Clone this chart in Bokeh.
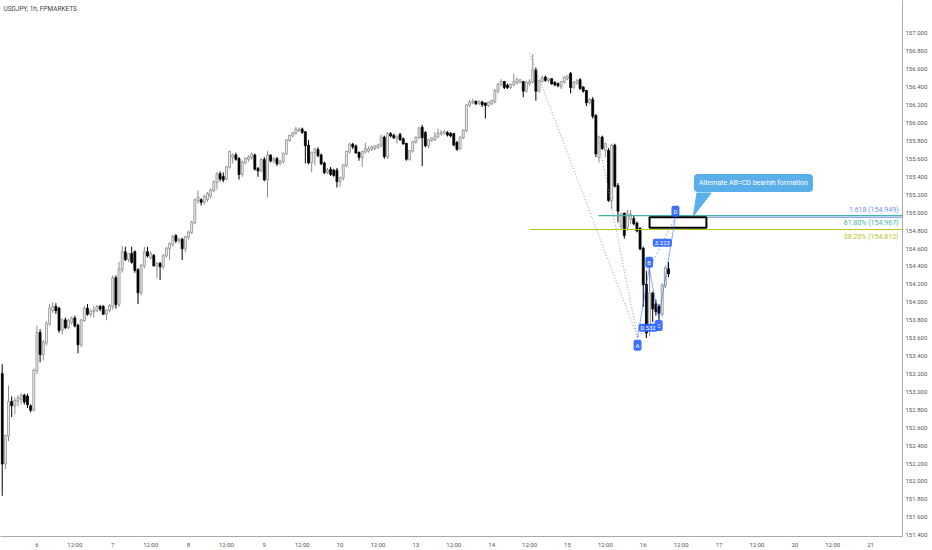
from bokeh.plotting import figure
from bokeh.models import FixedTicker, NumeralTickFormatter, Label, ColumnDataSource
from bokeh.embed import file_html
from bokeh.resources import INLINE

# ---------------- data (USDJPY 1h, FPMARKETS) ----------------
OPEN = [
    153.20, 152.20, 152.51, 152.89, 152.85, 152.90, 152.92, 152.96, 152.95, 152.84,
    152.80, 153.24, 153.66, 153.42, 153.55, 153.76, 153.91, 153.95, 153.93, 153.69,
    153.80, 153.72, 153.78, 153.82, 153.74, 153.53, 153.80, 153.93, 153.87, 153.90,
    153.91, 153.95, 153.95, 153.87, 153.91, 153.96, 154.27, 153.98, 154.37, 154.56,
    154.48, 154.54, 154.56, 154.36, 154.11, 154.41, 154.56, 154.50, 154.52, 154.41,
    154.43, 154.40, 154.52, 154.60, 154.65, 154.74, 154.69, 154.70, 154.60, 154.73,
    154.78, 154.89, 155.14, 155.14, 155.12, 155.15, 155.19, 155.25, 155.34, 155.43,
    155.40, 155.38, 155.51, 155.62, 155.64, 155.60, 155.43, 155.56, 155.60, 155.62,
    155.64, 155.49, 155.47, 155.59, 155.37, 155.64, 155.58, 155.60, 155.55, 155.57,
    155.66, 155.81, 155.86, 155.89, 155.92, 155.93, 155.90, 155.75, 155.56, 155.67,
    155.70, 155.64, 155.55, 155.45, 155.48, 155.47, 155.47, 155.35, 155.39, 155.53,
    155.68, 155.76, 155.74, 155.67, 155.62, 155.68, 155.69, 155.71, 155.72, 155.73,
    155.75, 155.84, 155.63, 155.88, 155.86, 155.83, 155.87, 155.82, 155.77, 155.60,
    155.69, 155.79, 155.84, 155.95, 155.89, 155.75, 155.81, 155.82, 155.85, 155.88,
    155.89, 155.89, 155.88, 155.88, 155.78, 155.72, 155.84, 155.92, 156.20, 156.23,
    156.24, 156.22, 156.23, 156.22, 156.20, 156.22, 156.24, 156.36, 156.43, 156.46,
    156.42, 156.40, 156.43, 156.45, 156.46, 156.46, 156.36, 156.44, 156.46, 156.59,
    156.36, 156.47, 156.51, 156.48, 156.49, 156.45, 156.44, 156.41, 156.46, 156.50,
    156.55, 156.40, 156.45, 156.48, 156.40, 156.36, 156.23, 156.26, 156.08, 155.62,
    155.84, 155.70, 155.69, 155.14, 155.75, 155.30, 154.85, 154.99, 154.84, 154.93,
    154.93, 154.88, 154.82, 154.60, 154.20, 153.69, 154.10, 153.98, 153.95, 153.87,
    154.19, 154.37,
]
HIGH = [
    153.31, 152.52, 153.07, 152.95, 152.94, 152.96, 152.99, 152.98, 152.98, 152.86,
    153.26, 153.74, 153.70, 153.58, 153.79, 153.98, 154.00, 153.99, 153.95, 153.82,
    153.83, 153.81, 153.84, 153.85, 153.76, 153.81, 153.96, 153.98, 153.92, 153.96,
    153.97, 153.97, 153.97, 153.92, 153.98, 154.30, 154.30, 154.45, 154.63, 154.62,
    154.55, 154.62, 154.58, 154.38, 154.43, 154.62, 154.62, 154.57, 154.54, 154.45,
    154.45, 154.54, 154.62, 154.67, 154.75, 154.76, 154.72, 154.72, 154.74, 154.80,
    154.91, 155.16, 155.25, 155.16, 155.20, 155.23, 155.27, 155.36, 155.45, 155.46,
    155.45, 155.52, 155.69, 155.66, 155.67, 155.62, 155.58, 155.62, 155.64, 155.67,
    155.66, 155.51, 155.61, 155.62, 155.69, 155.65, 155.62, 155.62, 155.59, 155.67,
    155.82, 155.87, 155.90, 155.96, 155.95, 155.95, 155.91, 155.81, 155.68, 155.72,
    155.73, 155.66, 155.57, 155.50, 155.51, 155.49, 155.50, 155.40, 155.54, 155.69,
    155.78, 155.78, 155.76, 155.68, 155.68, 155.78, 155.74, 155.75, 155.75, 155.77,
    155.87, 155.86, 155.90, 155.90, 155.88, 155.86, 155.89, 155.84, 155.78, 155.70,
    155.80, 155.85, 155.96, 155.98, 155.91, 155.82, 155.84, 155.90, 155.94, 155.92,
    155.92, 155.91, 155.90, 155.89, 155.80, 155.85, 155.93, 156.21, 156.26, 156.27,
    156.25, 156.25, 156.25, 156.23, 156.24, 156.26, 156.38, 156.45, 156.49, 156.47,
    156.44, 156.44, 156.55, 156.51, 156.49, 156.47, 156.47, 156.49, 156.77, 156.62,
    156.48, 156.53, 156.53, 156.50, 156.50, 156.47, 156.45, 156.47, 156.52, 156.53,
    156.57, 156.47, 156.49, 156.50, 156.41, 156.37, 156.28, 156.29, 156.10, 155.86,
    155.86, 155.78, 155.72, 155.77, 155.77, 155.33, 155.00, 155.00, 155.03, 155.03,
    154.97, 154.90, 154.84, 154.62, 154.35, 154.38, 154.12, 154.03, 153.98, 154.21,
    154.41, 154.45,
]
LOW = [
    151.84, 152.14, 152.45, 152.72, 152.75, 152.84, 152.86, 152.86, 152.82, 152.77,
    152.78, 153.20, 153.33, 153.35, 153.52, 153.74, 153.88, 153.87, 153.66, 153.64,
    153.70, 153.70, 153.75, 153.72, 153.43, 153.50, 153.78, 153.85, 153.84, 153.83,
    153.89, 153.90, 153.86, 153.80, 153.89, 153.92, 153.93, 153.95, 154.33, 154.46,
    154.45, 154.43, 154.33, 153.98, 154.08, 154.38, 154.50, 154.48, 154.40, 154.27,
    154.25, 154.37, 154.50, 154.47, 154.62, 154.66, 154.66, 154.47, 154.56, 154.70,
    154.76, 154.87, 155.10, 155.08, 155.09, 155.12, 155.16, 155.23, 155.26, 155.35,
    155.34, 155.36, 155.49, 155.55, 155.58, 155.37, 155.40, 155.54, 155.57, 155.59,
    155.47, 155.40, 155.45, 155.35, 155.17, 155.56, 155.55, 155.52, 155.53, 155.55,
    155.64, 155.79, 155.84, 155.87, 155.90, 155.88, 155.55, 155.54, 155.45, 155.53,
    155.62, 155.53, 155.43, 155.43, 155.41, 155.40, 155.28, 155.29, 155.36, 155.51,
    155.66, 155.71, 155.66, 155.58, 155.51, 155.66, 155.67, 155.69, 155.70, 155.71,
    155.73, 155.60, 155.60, 155.84, 155.82, 155.77, 155.80, 155.76, 155.58, 155.58,
    155.67, 155.77, 155.82, 155.52, 155.73, 155.72, 155.79, 155.80, 155.83, 155.86,
    155.87, 155.85, 155.84, 155.74, 155.69, 155.70, 155.82, 155.90, 156.18, 156.21,
    156.20, 156.20, 156.18, 156.05, 156.18, 156.20, 156.22, 156.33, 156.41, 156.38,
    156.38, 156.38, 156.41, 156.43, 156.44, 156.29, 156.34, 156.42, 156.44, 156.25,
    156.34, 156.45, 156.46, 156.45, 156.43, 156.41, 156.40, 156.38, 156.44, 156.48,
    156.33, 156.38, 156.43, 156.37, 156.34, 156.19, 156.21, 156.05, 155.62, 155.56,
    155.70, 155.62, 155.12, 155.04, 155.28, 154.89, 154.82, 154.71, 154.80, 154.88,
    154.86, 154.78, 154.58, 153.95, 153.60, 153.62, 153.78, 153.85, 153.80, 153.84,
    154.16, 154.28,
]
CLOSE = [
    152.20, 152.51, 152.89, 152.85, 152.90, 152.93, 152.96, 152.89, 152.86, 152.80,
    153.24, 153.66, 153.42, 153.55, 153.76, 153.93, 153.95, 153.91, 153.69, 153.80,
    153.72, 153.80, 153.82, 153.74, 153.53, 153.80, 153.93, 153.87, 153.90, 153.91,
    153.95, 153.93, 153.87, 153.91, 153.96, 154.27, 153.98, 154.37, 154.56, 154.48,
    154.54, 154.45, 154.36, 154.11, 154.41, 154.56, 154.52, 154.54, 154.41, 154.43,
    154.40, 154.52, 154.60, 154.65, 154.73, 154.69, 154.70, 154.60, 154.73, 154.78,
    154.89, 155.14, 155.17, 155.12, 155.18, 155.21, 155.25, 155.34, 155.43, 155.38,
    155.37, 155.51, 155.68, 155.64, 155.60, 155.43, 155.56, 155.60, 155.62, 155.65,
    155.49, 155.47, 155.59, 155.37, 155.64, 155.58, 155.60, 155.55, 155.57, 155.66,
    155.81, 155.86, 155.89, 155.93, 155.93, 155.90, 155.75, 155.56, 155.67, 155.71,
    155.64, 155.55, 155.45, 155.47, 155.43, 155.42, 155.35, 155.39, 155.53, 155.68,
    155.76, 155.74, 155.67, 155.62, 155.68, 155.71, 155.71, 155.73, 155.74, 155.75,
    155.84, 155.63, 155.88, 155.86, 155.84, 155.85, 155.82, 155.77, 155.60, 155.69,
    155.79, 155.84, 155.94, 155.84, 155.75, 155.81, 155.83, 155.85, 155.88, 155.89,
    155.90, 155.87, 155.86, 155.76, 155.71, 155.84, 155.92, 156.20, 156.23, 156.24,
    156.22, 156.24, 156.21, 156.20, 156.23, 156.25, 156.36, 156.43, 156.46, 156.40,
    156.40, 156.43, 156.46, 156.48, 156.48, 156.36, 156.45, 156.46, 156.59, 156.36,
    156.47, 156.50, 156.48, 156.49, 156.44, 156.43, 156.42, 156.46, 156.51, 156.52,
    156.40, 156.45, 156.47, 156.39, 156.36, 156.23, 156.26, 156.08, 155.66, 155.84,
    155.72, 155.77, 155.14, 155.75, 155.30, 155.02, 154.98, 154.75, 154.99, 154.98,
    154.88, 154.80, 154.60, 154.20, 153.66, 154.10, 153.93, 153.90, 153.88, 154.19,
    154.38, 154.32,
]
BAR = list(range(len(CLOSE)))

# time axis (bar index of each label)
DAY_TICKS = [11, 23, 35, 47, 59, 71, 83, 95, 107, 119, 131, 143,
             155, 167, 179, 191, 203, 215, 227, 239, 251, 263, 275]
DAY_LABELS = ["6", "12:00", "7", "12:00", "8", "12:00", "9", "12:00", "10", "12:00",
              "13", "12:00", "14", "12:00", "15", "12:00", "16", "12:00", "17", "12:00",
              "20", "12:00", "21"]
PRICE_TICKS = [151.4, 151.6, 151.8, 152.0, 152.2, 152.4, 152.6, 152.8, 153.0, 153.2,
               153.4, 153.6, 153.8, 154.0, 154.2, 154.4, 154.6, 154.8, 155.0, 155.2,
               155.4, 155.6, 155.8, 156.0, 156.2, 156.4, 156.6, 156.8, 157.0]
X_RANGE = (-0.54, 285.1)
Y_RANGE = (151.386, 157.368)

# fibonacci levels
FIB_NAMES = ["1.618", "61.80%", "38.20%"]
FIB_PRICES = [154.949, 154.967, 154.812]
FIB_START = [204.5, 188.8, 167.0]
FIB_COLORS = ["#6f8ff0", "#3fb6a8", "#b9c41c"]
FIB_TEXT_DY = [7, -7, -7]

# AB=CD pattern points
PAT_NAMES = ["A", "B", "C", "D"]
PAT_BAR = [201.2, 204.9, 207.9, 213.2]
PAT_PRICE = [153.61, 154.38, 153.82, 154.949]
PAT_DY = [-8, 6, -7, 6]
RATIOS = ["0.532", "3.223"]

# guide (dotted) lines towards A
GUIDE_X0 = [167.0, 188.6]
GUIDE_Y0 = [156.78, 155.85]

# target box
BOX = dict(left=205.0, right=223.0, bottom=154.832, top=154.949)

# callout
CALLOUT_TEXT = "Alternate AB=CD bearish formation"
CALLOUT_BAR = 237.9
CALLOUT_PRICE = 155.33
POINTER_X = [220.0, 224.5, 218.9]
POINTER_Y = [155.22, 155.22, 154.965]

TEXT_FONT = "Roboto"
BLUE = "#2962ff"

# ---------------- figure ----------------
p = figure(frame_width=902, frame_height=536, x_range=X_RANGE, y_range=Y_RANGE,
           output_backend="svg", toolbar_location=None, y_axis_location="right",
           min_border_left=0, min_border_top=0, min_border_right=0, min_border_bottom=0)
p.xgrid.visible = False
p.ygrid.visible = False
p.outline_line_color = None
p.background_fill_color = "white"

p.xaxis.ticker = FixedTicker(ticks=DAY_TICKS)
p.xaxis.major_label_overrides = {t: l for t, l in zip(DAY_TICKS, DAY_LABELS)}
p.yaxis.ticker = FixedTicker(ticks=PRICE_TICKS)
p.yaxis.formatter = NumeralTickFormatter(format="0.000")
for ax in (p.xaxis[0], p.yaxis[0]):
    ax.major_tick_line_color = None
    ax.minor_tick_line_color = None
    ax.major_tick_out = 0
    ax.major_tick_in = 0
    ax.minor_tick_out = 0
    ax.minor_tick_in = 0
    ax.axis_line_color = "#a9a9a9"
    ax.major_label_text_font_size = "6px"
    ax.major_label_text_color = "#555555"
    ax.major_label_text_font = TEXT_FONT
p.xaxis.major_label_standoff = 4
p.yaxis.major_label_standoff = 3

# ---------------- candles ----------------
up = [c >= o for o, c in zip(OPEN, CLOSE)]
src = ColumnDataSource(dict(
    x=BAR, high=HIGH, low=LOW,
    top=[max(o, c) + 0.004 for o, c in zip(OPEN, CLOSE)],
    bottom=[min(o, c) - 0.004 for o, c in zip(OPEN, CLOSE)],
    fill=["#f2f2f2" if u else "#000000" for u in up],
    line=["#8c8c8c" if u else "#000000" for u in up],
))
p.segment(x0="x", y0="high", x1="x", y1="low", color="line", line_width=1, source=src)
p.vbar(x="x", width=0.62, top="top", bottom="bottom", fill_color="fill",
       line_color="line", line_width=0.8, source=src)

# ---------------- guides ----------------
for gx, gy in zip(GUIDE_X0, GUIDE_Y0):
    p.line([gx, PAT_BAR[0]], [gy, PAT_PRICE[0]], line_color="#9a9a9a",
           line_dash="1 2", line_width=1)

# fib lines
for name, price, start, col, dy in zip(FIB_NAMES, FIB_PRICES, FIB_START, FIB_COLORS, FIB_TEXT_DY):
    p.line([start, X_RANGE[1]], [price, price], line_color=col, line_width=1.2, line_alpha=1.0)
    p.add_layout(Label(x=X_RANGE[1], y=price, x_offset=-4, y_offset=dy,
                       text=f"{name} ({price:.3f})", text_align="right",
                       text_baseline="middle", text_font_size="7px",
                       text_color=col, text_font=TEXT_FONT))

# target box
p.quad(left=[BOX["left"]], right=[BOX["right"]], bottom=[BOX["bottom"]], top=[BOX["top"]],
       fill_color="white", line_color="black", line_width=2)

# pattern legs
p.line(PAT_BAR, PAT_PRICE, line_color=BLUE, line_alpha=0.55, line_width=1)
p.line([PAT_BAR[0], PAT_BAR[2]], [PAT_PRICE[0], PAT_PRICE[2]], line_color=BLUE,
       line_alpha=0.5, line_dash="2 2")
p.line([PAT_BAR[1], PAT_BAR[3]], [PAT_PRICE[1], PAT_PRICE[3]], line_color=BLUE,
       line_alpha=0.5, line_dash="2 2")

def tag(x, y, text, dy):
    p.add_layout(Label(x=x, y=y, y_offset=dy, text=text, text_align="center",
                       text_baseline="middle", text_font_size="6px", text_color="white",
                       text_font=TEXT_FONT, background_fill_color=BLUE,
                       background_fill_alpha=0.9, padding=2, border_radius=2))

for n, bx, py, dy in zip(PAT_NAMES, PAT_BAR, PAT_PRICE, PAT_DY):
    tag(bx, py, n, dy)
tag((PAT_BAR[0] + PAT_BAR[2]) / 2, (PAT_PRICE[0] + PAT_PRICE[2]) / 2, RATIOS[0], 0)
tag((PAT_BAR[1] + PAT_BAR[3]) / 2, (PAT_PRICE[1] + PAT_PRICE[3]) / 2, RATIOS[1], 0)

# callout
p.patch(POINTER_X, POINTER_Y, fill_color="#5aaeea", line_color="#5aaeea")
p.add_layout(Label(x=CALLOUT_BAR, y=CALLOUT_PRICE, text=CALLOUT_TEXT, text_align="center",
                   text_baseline="middle", text_font_size="7px", text_color="white",
                   text_font=TEXT_FONT, background_fill_color="#5aaeea",
                   padding=5, border_radius=4))

# header text
p.add_layout(Label(x=X_RANGE[0], y=Y_RANGE[1], x_offset=3, y_offset=-8,
                   text="USDJPY, 1h, FPMARKETS", text_baseline="middle",
                   text_font_size="6.5px", text_color="#444444", text_font=TEXT_FONT))

open("out.html", "w").write(file_html(p, INLINE))
